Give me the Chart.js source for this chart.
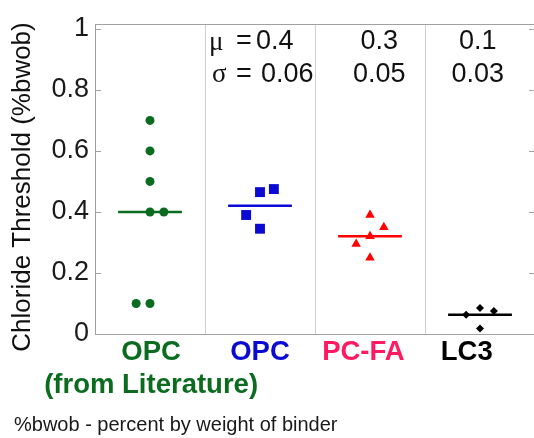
<!DOCTYPE html>
<html>
<head>
<meta charset="utf-8">
<script src="https://cdn.jsdelivr.net/npm/chart.js@4"></script>
<style>
  html, body { margin: 0; padding: 0; background: #fff; overflow: hidden; }
  #wrap { width: 542px; height: 438px; }
</style>
</head>
<body>
<div id="wrap"><canvas id="chart" width="542" height="438"></canvas></div>
<script>
// groups along the x axis
const groupNames = [['OPC', '(from Literature)'], 'OPC', 'PC-FA', 'LC3'];
const groupLabelPos = [0.51, 1.5, 2.44, 3.38];
const markColors = ['#0b6b1f', '#0a0ad2', '#ff0000', '#000000'];
const labelColors = ['#0b6b1f', '#0a0ad2', '#ff1a62', '#000000'];
const markStyles = ['circle', 'rect', 'triangle', 'rectRot'];
const markRadius = [4.5, 7, 5.5, 4];

// measured chloride thresholds (%bwob) and their jitter slots
const opcLitValues = [0.7, 0.6, 0.5, 0.4, 0.4, 0.1, 0.1];
const opcLitJitter = [0, 0, 0, 0, 1, -1, 0];
const opcValues = [0.465, 0.475, 0.39, 0.345];
const opcJitter = [0, 1, -1, 0];
const pcfaValues = [0.39, 0.35, 0.32, 0.295, 0.25];
const pcfaJitter = [0, 1, 0, -1, 0];
const lc3Values = [0.063, 0.085, 0.075, 0.018];
const lc3Jitter = [-1, 0, 1, 0];
const groupMeans = [0.4, 0.42, 0.32, 0.063];

// stats printed above the columns
const muText = ['0.4', '0.3', '0.1'];
const sigmaText = ['0.06', '0.05', '0.03'];

const yTicks = [0, 0.2, 0.4, 0.6, 0.8, 1];

const allValues = [opcLitValues, opcValues, pcfaValues, lc3Values];
const allJitter = [opcLitJitter, opcJitter, pcfaJitter, lc3Jitter];
const JITTER_STEP = 0.126;
const MEAN_HALF = 0.29;

const datasets = [];
allValues.forEach((vals, g) => {
    const center = g + 0.5;
    datasets.push({
        data: vals.map((v, i) => ({ x: center + allJitter[g][i] * JITTER_STEP, y: v })),
        pointStyle: markStyles[g],
        pointRadius: markRadius[g],
        pointBackgroundColor: markColors[g],
        pointBorderWidth: 0,
        order: 0
    });
    datasets.push({
        data: [{ x: center - MEAN_HALF, y: groupMeans[g] }, { x: center + MEAN_HALF, y: groupMeans[g] }],
        showLine: true,
        borderColor: markColors[g],
        borderWidth: 2.5,
        pointRadius: 0,
        order: 1
    });
});

const SANS = "'Liberation Sans', Arial, sans-serif";
const SERIF = "'Liberation Serif', 'Times New Roman', serif";

// frame, column dividers and inward ticks
const framePlugin = {
    id: 'frame',
    beforeDatasetsDraw(chart) {
        const { ctx, chartArea: a, scales: { x, y } } = chart;
        ctx.save();
        ctx.lineWidth = 1;
        ctx.strokeStyle = '#cfcfcf';
        [1, 2, 3].forEach(v => {
            const px = Math.round(x.getPixelForValue(v)) + 0.5;
            ctx.beginPath();
            ctx.moveTo(px, a.top);
            ctx.lineTo(px, a.bottom);
            ctx.stroke();
        });
        ctx.strokeStyle = '#a0a0a0';
        ctx.strokeRect(Math.round(a.left) + 0.5, Math.round(a.top) + 0.5, Math.round(a.right - a.left), Math.round(a.bottom - a.top));
        yTicks.forEach(v => {
            const py = Math.round(y.getPixelForValue(v)) + 0.5;
            ctx.beginPath();
            ctx.moveTo(a.left, py);
            ctx.lineTo(a.left + 6, py);
            ctx.moveTo(a.right, py);
            ctx.lineTo(a.right - 6, py);
            ctx.stroke();
        });
        ctx.restore();
    },
    afterDraw(chart) {
        const { ctx, scales: { x, y } } = chart;
        ctx.save();
        ctx.fillStyle = '#111';
        ctx.textBaseline = 'middle';
        const row1 = y.getPixelForValue(0.96);
        const row2 = y.getPixelForValue(0.85);

        // first stats column carries the symbols
        const x0 = x.getPixelForValue(1.036);
        ctx.textAlign = 'left';
        ctx.font = '27px ' + SERIF;
        ctx.fillText('\u03bc', x0, row1 + 2);
        ctx.fillText('\u03c3', x0 + 3, row2);
        ctx.font = '27px ' + SANS;
        ctx.fillText('=', x0 + 27, row1);
        ctx.fillText('=', x0 + 27, row2);
        ctx.fillText(muText[0], x0 + 47, row1);
        ctx.fillText(sigmaText[0], x0 + 52, row2);

        ctx.textAlign = 'center';
        [2.585, 3.48].forEach((pos, i) => {
            const px = x.getPixelForValue(pos);
            ctx.fillText(muText[i + 1], px, row1);
            ctx.fillText(sigmaText[i + 1], px, row2);
        });

        // y axis title
        ctx.font = '26px ' + SANS;
        ctx.translate(23, 187);
        ctx.rotate(-Math.PI / 2);
        ctx.fillText('Chloride Threshold (%bwob)', 0, 0);
        ctx.restore();

        // footnote
        ctx.save();
        ctx.fillStyle = '#1a1a1a';
        ctx.font = '20px ' + SANS;
        ctx.textBaseline = 'middle';
        ctx.textAlign = 'left';
        ctx.fillText('%bwob - percent by weight of binder', 14, 425);
        ctx.restore();
    }
};

new Chart(document.getElementById('chart'), {
    type: 'scatter',
    data: { datasets },
    options: {
        responsive: false,
        animation: false,
        layout: { padding: { top: 24, right: 3, left: 0, bottom: 0 } },
        plugins: { legend: { display: false }, tooltip: { enabled: false } },
        scales: {
            x: {
                type: 'linear',
                min: 0,
                max: 4,
                grid: { display: false, drawTicks: false },
                border: { display: false },
                afterBuildTicks: s => { s.ticks = groupLabelPos.map(v => ({ value: v })); },
                afterFit: s => { s.height = 104; },
                ticks: {
                    autoSkip: false,
                    maxRotation: 0,
                    padding: 2,
                    font: { family: SANS, size: 27.5, weight: 'bold', lineHeight: 1.2 },
                    color: c => labelColors[c.index],
                    callback: (v, i) => groupNames[i]
                }
            },
            y: {
                min: 0,
                max: 1.016,
                grid: { display: false, drawTicks: false },
                border: { display: false },
                afterBuildTicks: s => { s.ticks = yTicks.map(v => ({ value: v })); },
                afterFit: s => { s.width = 95; },
                ticks: {
                    padding: 6,
                    color: '#1a1a1a',
                    font: { family: SANS, size: 27 },
                    callback: v => String(v)
                }
            }
        }
    },
    plugins: [framePlugin]
});
</script>
</body>
</html>
